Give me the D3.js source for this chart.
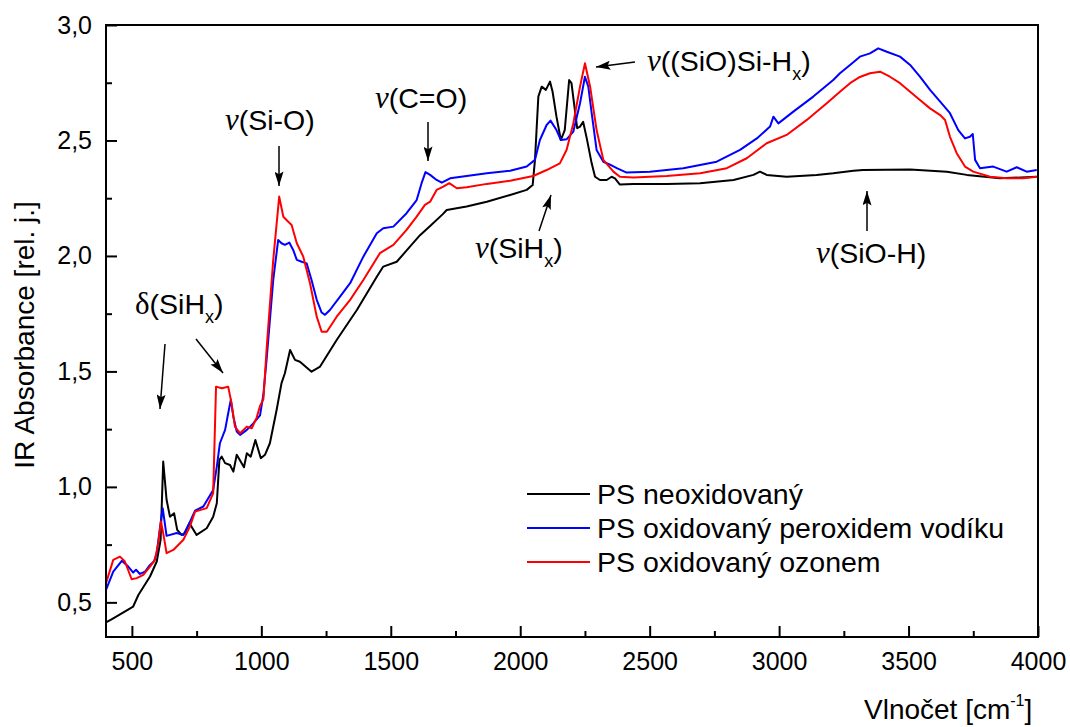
<!DOCTYPE html>
<html lang="cs">
  <head>
    <meta charset="utf-8" />
    <title>IR spektra PS</title>
    <script src="https://d3js.org/d3.v7.min.js"></script>
    <style type="text/css">
      body { margin: 0; background: #fff; }
      text { font-family: 'Liberation Sans', Arial, sans-serif; fill: #000; }
      .greek { font-family: 'Liberation Serif', 'Times New Roman', serif; font-style: italic; }
      .upright { font-style: normal; }
    </style>
  </head>
  <body>
    <script type="text/javascript">
      // [vlnočet cm-1, absorbance]
      const neoxidovany = [
        [400, 0.413], [428, 0.431], [505, 0.482], [525, 0.532], [570, 0.612], [596, 0.677],
        [611, 0.771], [621, 1.110], [634, 0.944], [647, 0.871], [663, 0.886], [675, 0.814],
        [692, 0.792], [705, 0.800], [722, 0.843], [750, 0.792], [789, 0.821], [814, 0.871],
        [828, 0.929], [838, 1.117], [847, 1.131], [860, 1.103], [879, 1.095], [892, 1.066],
        [905, 1.139], [933, 1.085], [944, 1.146], [959, 1.131], [977, 1.203], [998, 1.124],
        [1014, 1.139], [1033, 1.189], [1059, 1.333], [1078, 1.449], [1091, 1.492], [1111, 1.593],
        [1130, 1.550], [1149, 1.542], [1194, 1.499], [1227, 1.521], [1291, 1.636], [1369, 1.766],
        [1446, 1.910], [1471, 1.954], [1523, 1.975], [1574, 2.040], [1613, 2.090], [1652, 2.130],
        [1700, 2.180], [1716, 2.199], [1793, 2.214], [1871, 2.235], [1961, 2.264], [2025, 2.286],
        [2048, 2.307], [2057, 2.416], [2070, 2.690], [2083, 2.733], [2099, 2.719], [2115, 2.755],
        [2125, 2.711], [2140, 2.603], [2157, 2.502], [2172, 2.545], [2189, 2.762], [2198, 2.748],
        [2211, 2.632], [2220, 2.553], [2231, 2.560], [2243, 2.581], [2257, 2.509], [2276, 2.401],
        [2289, 2.343], [2308, 2.329], [2334, 2.329], [2353, 2.343], [2366, 2.336], [2385, 2.309],
        [2437, 2.312], [2566, 2.312], [2695, 2.315], [2824, 2.329], [2901, 2.351], [2926, 2.365],
        [2952, 2.351], [3029, 2.343], [3145, 2.351], [3209, 2.358], [3287, 2.369], [3324, 2.372],
        [3506, 2.374], [3648, 2.365], [3725, 2.351], [3853, 2.336], [3995, 2.343]
      ];
      const peroxid = [
        [400, 0.554], [428, 0.633], [461, 0.680], [486, 0.655], [505, 0.629], [516, 0.641],
        [531, 0.623], [551, 0.633], [570, 0.662], [585, 0.677], [596, 0.713], [609, 0.828],
        [619, 0.908], [634, 0.788], [673, 0.800], [699, 0.792], [722, 0.843], [744, 0.897],
        [776, 0.915], [814, 0.987], [828, 1.088], [840, 1.189], [860, 1.247], [872, 1.319],
        [882, 1.377], [892, 1.304], [905, 1.240], [918, 1.225], [944, 1.247], [969, 1.275],
        [995, 1.310], [1008, 1.400], [1021, 1.560], [1046, 1.896], [1065, 2.069], [1078, 2.055],
        [1091, 2.048], [1108, 2.058], [1123, 2.026], [1137, 1.983], [1156, 1.975], [1175, 1.968],
        [1194, 1.896], [1214, 1.810], [1233, 1.755], [1246, 1.745], [1265, 1.766], [1304, 1.824],
        [1343, 1.882], [1394, 1.997], [1446, 2.098], [1471, 2.120], [1510, 2.127], [1561, 2.185],
        [1600, 2.242], [1619, 2.315], [1634, 2.363], [1652, 2.351], [1677, 2.329], [1697, 2.317],
        [1729, 2.336], [1793, 2.346], [1871, 2.358], [1961, 2.369], [2025, 2.387], [2057, 2.416],
        [2076, 2.502], [2102, 2.567], [2117, 2.586], [2140, 2.545], [2157, 2.502], [2179, 2.505],
        [2205, 2.538], [2231, 2.661], [2250, 2.776], [2263, 2.733], [2276, 2.618], [2295, 2.459],
        [2321, 2.408], [2347, 2.395], [2373, 2.380], [2411, 2.361], [2501, 2.365], [2630, 2.380],
        [2759, 2.408], [2849, 2.459], [2914, 2.509], [2965, 2.560], [2978, 2.603], [2997, 2.574],
        [3055, 2.625], [3132, 2.690], [3209, 2.762], [3235, 2.791], [3274, 2.827], [3312, 2.863],
        [3351, 2.877], [3383, 2.899], [3416, 2.884], [3467, 2.863], [3506, 2.827], [3544, 2.776],
        [3583, 2.719], [3622, 2.668], [3660, 2.618], [3692, 2.545], [3718, 2.509], [3737, 2.516],
        [3748, 2.528], [3757, 2.416], [3776, 2.380], [3827, 2.387], [3879, 2.365], [3918, 2.384],
        [3956, 2.365], [3995, 2.372]
      ];
      const ozon = [
        [400, 0.583], [428, 0.684], [454, 0.698], [473, 0.677], [499, 0.600], [519, 0.605],
        [544, 0.619], [570, 0.655], [589, 0.684], [602, 0.756], [612, 0.850], [621, 0.800],
        [634, 0.713], [660, 0.727], [699, 0.771], [724, 0.828], [744, 0.893], [789, 0.908],
        [814, 0.973], [825, 1.434], [847, 1.427], [872, 1.434], [885, 1.362], [898, 1.261],
        [918, 1.232], [944, 1.261], [963, 1.254], [982, 1.300], [995, 1.350], [1008, 1.380],
        [1021, 1.607], [1046, 1.983], [1069, 2.257], [1085, 2.170], [1104, 2.148], [1117, 2.134],
        [1137, 2.055], [1162, 1.997], [1188, 1.882], [1214, 1.737], [1233, 1.672], [1253, 1.672],
        [1291, 1.737], [1343, 1.810], [1394, 1.896], [1458, 2.012], [1510, 2.048], [1561, 2.113],
        [1600, 2.170], [1632, 2.221], [1652, 2.235], [1677, 2.286], [1703, 2.300], [1726, 2.315],
        [1755, 2.293], [1793, 2.297], [1871, 2.312], [1961, 2.326], [2050, 2.346], [2102, 2.372],
        [2153, 2.401], [2179, 2.459], [2205, 2.574], [2231, 2.733], [2250, 2.834], [2270, 2.733],
        [2295, 2.545], [2321, 2.416], [2360, 2.365], [2385, 2.343], [2437, 2.340], [2566, 2.346],
        [2695, 2.358], [2798, 2.380], [2875, 2.423], [2952, 2.488], [3029, 2.524], [3107, 2.589],
        [3184, 2.661], [3235, 2.711], [3274, 2.748], [3312, 2.775], [3351, 2.791], [3390, 2.798],
        [3428, 2.776], [3467, 2.748], [3506, 2.711], [3544, 2.675], [3583, 2.639], [3622, 2.610],
        [3641, 2.589], [3660, 2.516], [3686, 2.445], [3718, 2.387], [3750, 2.365], [3815, 2.343],
        [3879, 2.336], [3943, 2.336], [3995, 2.343]
      ];

      const seriesNames = ['PS neoxidovaný', 'PS oxidovaný peroxidem vodíku', 'PS oxidovaný ozonem'];
      const seriesColors = ['#000000', '#0000ff', '#ff0000'];
      const seriesData = [neoxidovany, peroxid, ozon];

      const xTicks = [500, 1000, 1500, 2000, 2500, 3000, 3500, 4000];
      const xMinor = [750, 1250, 1750, 2250, 2750, 3250, 3750];
      const yTicks = [0.5, 1.0, 1.5, 2.0, 2.5, 3.0];
      const yMinor = [0.75, 1.25, 1.75, 2.25, 2.75];

      //Width and height
      const w = 1070;
      const h = 727;
      const pLeft = 106, pRight = 1038, pTop = 25, pBottom = 637;

      const xScale = d3.scaleLinear().domain([400, 4000]).range([pLeft, pRight]);
      const yScale = d3.scaleLinear().domain([0.35, 3.0]).range([pBottom, pTop]);

      const svg = d3.select('body').append('svg').attr('width', w).attr('height', h);

      svg.append('clipPath').attr('id', 'plot')
        .append('rect').attr('x', pLeft).attr('y', pTop)
        .attr('width', pRight - pLeft).attr('height', pBottom - pTop);

      const comma = (d) => d3.format('.1f')(d).replace('.', ',');

      // minor ticks
      svg.append('g').attr('transform', `translate(0,${pBottom})`)
        .call(d3.axisBottom(xScale).tickValues(xMinor).tickSize(-6).tickFormat(''))
        .call((g) => g.select('.domain').remove())
        .selectAll('line').attr('stroke-width', 2);
      svg.append('g').attr('transform', `translate(${pLeft},0)`)
        .call(d3.axisLeft(yScale).tickValues(yMinor).tickSize(-6).tickFormat(''))
        .call((g) => g.select('.domain').remove())
        .selectAll('line').attr('stroke-width', 2);

      // major ticks
      const xAxis = svg.append('g').attr('transform', `translate(0,${pBottom})`)
        .call(d3.axisBottom(xScale).tickValues(xTicks).tickSize(-11).tickPadding(15).tickFormat(d3.format('d')));
      xAxis.select('.domain').remove();
      xAxis.selectAll('line').attr('stroke-width', 2);
      xAxis.selectAll('text').attr('font-size', '25px')
        .style('font-family', "'Liberation Sans', Arial, sans-serif");

      const yAxis = svg.append('g').attr('transform', `translate(${pLeft},0)`)
        .call(d3.axisLeft(yScale).tickValues(yTicks).tickSize(-11).tickPadding(14).tickFormat(comma));
      yAxis.select('.domain').remove();
      yAxis.selectAll('line').attr('stroke-width', 2);
      yAxis.selectAll('text').attr('font-size', '25px')
        .style('font-family', "'Liberation Sans', Arial, sans-serif");

      // curves
      const line = d3.line().x((d) => xScale(d[0])).y((d) => yScale(d[1]));
      svg.append('g').attr('clip-path', 'url(#plot)')
        .selectAll('path')
        .data(seriesData)
        .enter()
        .append('path')
        .attr('d', line)
        .attr('fill', 'none')
        .attr('stroke', (d, i) => seriesColors[i])
        .attr('stroke-width', 2)
        .attr('stroke-linejoin', 'round');

      // frame
      svg.append('rect').attr('x', pLeft).attr('y', pTop)
        .attr('width', pRight - pLeft).attr('height', pBottom - pTop)
        .attr('fill', 'none').attr('stroke', '#000').attr('stroke-width', 2);

      // axis titles
      svg.append('text')
        .attr('transform', 'translate(34,335) rotate(-90)')
        .attr('text-anchor', 'middle')
        .attr('font-size', '28px')
        .text('IR Absorbance [rel. j.]');

      const xt = svg.append('text').attr('x', 864).attr('y', 719).attr('font-size', '28px');
      xt.append('tspan').text('Vlnočet [cm');
      xt.append('tspan').attr('font-size', '16px').attr('dy', -13).text('-1');
      xt.append('tspan').attr('dy', 13).text(']');

      // legend
      const legend = svg.append('g')
        .selectAll('g')
        .data(seriesNames)
        .enter()
        .append('g')
        .attr('transform', (d, i) => `translate(527,${494 + i * 34})`);
      legend.append('line').attr('x1', 0).attr('x2', 63)
        .attr('stroke', (d, i) => seriesColors[i]).attr('stroke-width', 2);
      legend.append('text').attr('x', 70).attr('y', 10).attr('font-size', '28.5px').text((d) => d);

      // annotations
      svg.append('defs').append('marker')
        .attr('id', 'head').attr('viewBox', '0 0 16 10')
        .attr('refX', 16).attr('refY', 5)
        .attr('markerWidth', 16).attr('markerHeight', 9)
        .attr('markerUnits', 'userSpaceOnUse')
        .attr('orient', 'auto')
        .append('path').attr('d', 'M0,0 L16,5 L0,10 L3,5 Z').attr('fill', '#000');

      const labels = [
        { x: 135, y: 314, g: 'δ', up: true, t: '(SiH', sub: 'x', end: ')' },
        { x: 225, y: 130, g: 'ν', t: '(Si-O)' },
        { x: 375, y: 108, g: 'ν', t: '(C=O)' },
        { x: 475, y: 258, g: 'ν', t: '(SiH', sub: 'x', end: ')' },
        { x: 647, y: 71, g: 'ν', t: '((SiO)Si-H', sub: 'x', end: ')' },
        { x: 816, y: 263, g: 'ν', t: '(SiO-H)' }
      ];
      labels.forEach((l) => {
        const t = svg.append('text').attr('x', l.x).attr('y', l.y).attr('font-size', '28.5px');
        t.append('tspan').attr('class', l.up ? 'greek upright' : 'greek').attr('font-size', '31px').text(l.g);
        t.append('tspan').text(l.t);
        if (l.sub) {
          t.append('tspan').attr('font-size', '18px').attr('dy', 9).text(l.sub);
          t.append('tspan').attr('dy', -9).text(l.end);
        }
      });

      const arrows = [
        [165, 344, 160, 409],
        [196, 339, 223, 373],
        [279, 146, 279, 186],
        [428, 122, 428, 161],
        [539, 231, 551, 195],
        [635, 62, 596, 67],
        [867, 231, 867, 191]
      ];
      svg.append('g').selectAll('line')
        .data(arrows)
        .enter()
        .append('line')
        .attr('x1', (d) => d[0]).attr('y1', (d) => d[1])
        .attr('x2', (d) => d[2]).attr('y2', (d) => d[3])
        .attr('stroke', '#000').attr('stroke-width', 1.5)
        .attr('marker-end', 'url(#head)');
    </script>
  </body>
</html>
